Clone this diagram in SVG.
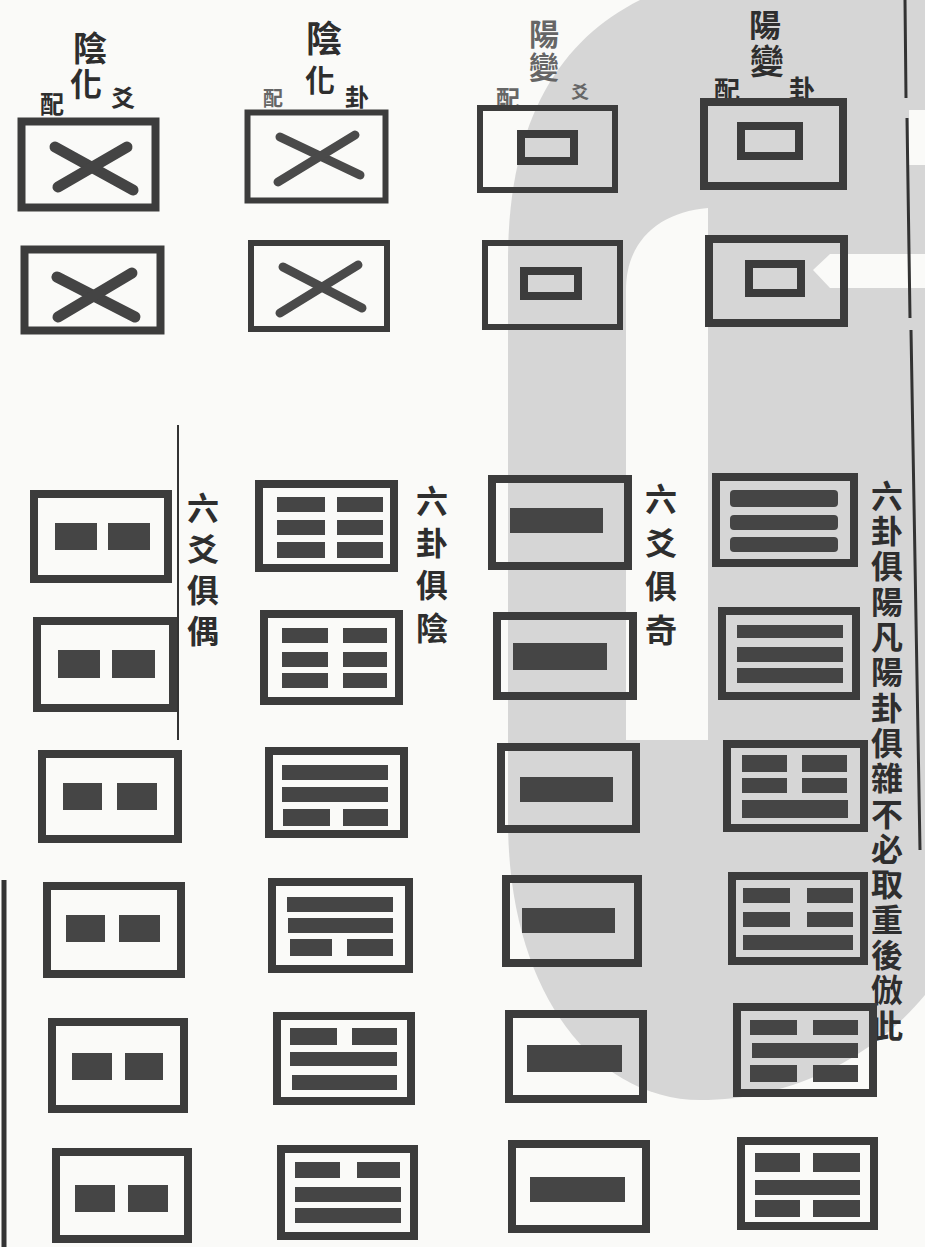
<svg xmlns="http://www.w3.org/2000/svg" width="925" height="1247" viewBox="0 0 925 1247">
<style>
.bg{fill:#fafaf8}
.wm{fill:#d6d6d6}
.hole{fill:#fafaf8}
.bx{fill:none;stroke:#3c3c3c;stroke-width:8}
.bx6{fill:none;stroke:#3c3c3c;stroke-width:6}
.bar{fill:#454545}
.x{stroke:#444;stroke-width:11;stroke-linecap:round}
.x2{stroke:#4a4a4a;stroke-width:9;stroke-linecap:round}
.t{font-family:"Noto Sans CJK TC","Noto Sans CJK SC",sans-serif;font-weight:700;fill:#2e2e2e;text-anchor:middle}
.tl{fill:#666}
.rule{stroke:#333;fill:none}
</style>
<rect class="bg" x="0" y="0" width="925" height="1247"/>
<g id="watermark">
<path class="wm" d="M640,0 L925,0 L925,995 C880,1050 800,1100 700,1100 C600,1100 508,1000 508,820 L508,260 C508,120 560,40 640,0 Z"/>
<path class="hole" d="M626,740 L626,290 C626,240 660,212 708,208 L708,740 Z"/>
<path class="hole" d="M813,270 L830,254 L925,254 L925,288 L830,288 Z"/>
<path class="hole" d="M909,110 L925,110 L925,165 L909,165 Z"/>
</g>
<g id="rules">
<path class="rule" stroke-width="3" d="M905,0 L906,98 M907,118 L910,318 M911,330 L920,850"/>
<path class="rule" stroke-width="2" d="M178,425 L178,740"/>
<path class="rule" stroke-width="5" d="M4,880 L4,1247"/>
</g>
<g id="headers">
<g id="h1"><text class="t"><tspan x="90" y="61" font-size="34">陰</tspan><tspan x="86" y="96" font-size="32">化</tspan><tspan x="52" y="113" font-size="24">配</tspan><tspan x="123" y="107" font-size="24">爻</tspan></text></g>
<g id="h2"><text class="t"><tspan x="324" y="52" font-size="36">陰</tspan><tspan x="320" y="91" font-size="30">化</tspan><tspan x="273" y="106" font-size="20" fill="#666">配</tspan><tspan x="357" y="106" font-size="24">卦</tspan></text></g>
<g id="h3"><text class="t tl"><tspan x="544" y="45" font-size="30">陽</tspan><tspan x="544" y="78" font-size="30">變</tspan><tspan x="508" y="108" font-size="24">配</tspan><tspan x="580" y="99" font-size="18">爻</tspan></text></g>
<g id="h4"><text class="t"><tspan x="765" y="37" font-size="32">陽</tspan><tspan x="767" y="74" font-size="34">變</tspan><tspan x="727" y="100" font-size="26">配</tspan><tspan x="802" y="99" font-size="26">卦</tspan></text></g>
</g>
<g id="labels">
<text class="t" font-size="32" x="203 203 203 203" y="520 561 602 643">六爻俱偶</text>
<text class="t" font-size="32" x="432 432 432 432" y="513 555 597 640">六卦俱陰</text>
<text class="t" font-size="32" x="661 661 661 661" y="511 555 598 642">六爻俱奇</text>
<text class="t" font-size="32" x="887 887 887 887 887 887 887 887 887 887 887 887 887 887 887 887 887" y="508 543 578 614 649 684 720 755 790 826 861 896 932 967 1002 1038 1073">六卦俱陽凡陽卦俱雜不必取重後倣此</text>
</g>
<g id="c1r1"><rect class="bx" x="21.5" y="121.5" width="134" height="86" stroke-width="9"/><line class="x" x1="55" y1="147" x2="133" y2="190"/><line class="x" x1="58" y1="187" x2="127" y2="147"/></g>
<g id="c1r2"><rect class="bx" x="24.5" y="249.5" width="136" height="81" stroke-width="9"/><line class="x" x1="57" y1="277" x2="135" y2="317"/><line class="x" x1="58" y1="317" x2="132" y2="273"/></g>
<g id="c2r1"><rect class="bx6" x="247.5" y="112.5" width="138" height="88" stroke-width="5"/><line class="x2" x1="280" y1="137" x2="360" y2="175"/><line class="x2" x1="278" y1="182" x2="355" y2="135"/></g>
<g id="c2r2"><rect class="bx6" x="251" y="243" width="136" height="86"/><line class="x2" x1="283" y1="267" x2="362" y2="308"/><line class="x2" x1="280" y1="313" x2="358" y2="265"/></g>
<g id="c3r1"><rect class="bx6" x="480" y="108" width="135" height="82"/><rect class="bx" x="521" y="134" width="53" height="27"/></g>
<g id="c3r2"><rect class="bx6" x="485" y="243" width="135" height="84"/><rect class="bx" x="524" y="271" width="54" height="25"/></g>
<g id="c4r1"><rect class="bx" x="704" y="102" width="139" height="84"/><rect class="bx" x="741" y="126" width="58" height="30"/></g>
<g id="c4r2"><rect class="bx" x="709" y="239" width="135" height="84"/><rect class="bx" x="749" y="264" width="52" height="29"/></g>
<g id="c1r3"><rect class="bx" x="34" y="494" width="134" height="85"/><rect class="bar" x="55" y="523" width="42" height="27"/><rect class="bar" x="108" y="523" width="42" height="27"/></g>
<g id="c1r4"><rect class="bx" x="37" y="621" width="136" height="87"/><rect class="bar" x="58" y="650" width="42" height="28"/><rect class="bar" x="112" y="650" width="43" height="28"/></g>
<g id="c1r5"><rect class="bx" x="42" y="754" width="136" height="85"/><rect class="bar" x="63" y="783" width="39" height="27"/><rect class="bar" x="117" y="783" width="40" height="27"/></g>
<g id="c1r6"><rect class="bx" x="47" y="886" width="134" height="88"/><rect class="bar" x="66" y="915" width="39" height="27"/><rect class="bar" x="119" y="915" width="41" height="27"/></g>
<g id="c1r7"><rect class="bx" x="52" y="1022" width="132" height="87"/><rect class="bar" x="72" y="1053" width="40" height="27"/><rect class="bar" x="125" y="1053" width="38" height="27"/></g>
<g id="c1r8"><rect class="bx" x="56" y="1152" width="132" height="87"/><rect class="bar" x="75" y="1185" width="40" height="27"/><rect class="bar" x="128" y="1185" width="40" height="27"/></g>
<g id="c2r3"><rect class="bx" x="259" y="484" width="135" height="84"/><rect class="bar" x="277" y="497" width="48" height="15"/><rect class="bar" x="337" y="497" width="46" height="15"/><rect class="bar" x="277" y="520" width="48" height="15"/><rect class="bar" x="337" y="520" width="46" height="15"/><rect class="bar" x="277" y="542" width="48" height="16"/><rect class="bar" x="337" y="542" width="46" height="16"/></g>
<g id="c2r4"><rect class="bx" x="264" y="614" width="135" height="87"/><rect class="bar" x="282" y="628" width="46" height="15"/><rect class="bar" x="343" y="628" width="44" height="15"/><rect class="bar" x="282" y="652" width="46" height="15"/><rect class="bar" x="343" y="652" width="44" height="15"/><rect class="bar" x="282" y="673" width="46" height="15"/><rect class="bar" x="343" y="673" width="44" height="15"/></g>
<g id="c2r5"><rect class="bx" x="269" y="751" width="135" height="83"/><rect class="bar" x="282" y="765" width="106" height="15"/><rect class="bar" x="282" y="787" width="106" height="15"/><rect class="bar" x="283" y="809" width="47" height="17"/><rect class="bar" x="343" y="809" width="45" height="17"/></g>
<g id="c2r6"><rect class="bx" x="272" y="882" width="137" height="87"/><rect class="bar" x="287" y="897" width="106" height="15"/><rect class="bar" x="288" y="918" width="105" height="15"/><rect class="bar" x="290" y="939" width="42" height="17"/><rect class="bar" x="347" y="939" width="46" height="17"/></g>
<g id="c2r7"><rect class="bx" x="277" y="1016" width="134" height="85"/><rect class="bar" x="290" y="1028" width="47" height="17"/><rect class="bar" x="352" y="1028" width="45" height="17"/><rect class="bar" x="290" y="1052" width="107" height="14"/><rect class="bar" x="292" y="1075" width="105" height="15"/></g>
<g id="c2r8"><rect class="bx" x="281" y="1149" width="133" height="87"/><rect class="bar" x="295" y="1162" width="45" height="16"/><rect class="bar" x="357" y="1162" width="43" height="16"/><rect class="bar" x="295" y="1187" width="106" height="15"/><rect class="bar" x="295" y="1208" width="106" height="15"/></g>
<g id="c3r3"><rect class="bx" x="492" y="479" width="136" height="87"/><rect class="bar" x="510" y="508" width="93" height="25"/></g>
<g id="c3r4"><rect class="bx" x="497" y="616" width="136" height="80"/><rect class="bar" x="513" y="643" width="94" height="27"/></g>
<g id="c3r5"><rect class="bx" x="501" y="747" width="135" height="82"/><rect class="bar" x="520" y="777" width="93" height="25"/></g>
<g id="c3r6"><rect class="bx" x="506" y="879" width="132" height="84"/><rect class="bar" x="522" y="908" width="93" height="25"/></g>
<g id="c3r7"><rect class="bx" x="509" y="1014" width="134" height="85"/><rect class="bar" x="527" y="1045" width="95" height="27"/></g>
<g id="c3r8"><rect class="bx" x="512" y="1144" width="134" height="85"/><rect class="bar" x="530" y="1177" width="95" height="25"/></g>
<g id="c4r3"><rect class="bx" x="716" y="477" width="138" height="86"/><rect class="bar" x="730" y="490" width="108" height="17" rx="4"/><rect class="bar" x="730" y="515" width="108" height="15" rx="4"/><rect class="bar" x="730" y="537" width="108" height="15" rx="4"/></g>
<g id="c4r4"><rect class="bx" x="722" y="611" width="134" height="85"/><rect class="bar" x="737" y="625" width="106" height="13"/><rect class="bar" x="737" y="647" width="106" height="15"/><rect class="bar" x="737" y="668" width="106" height="15"/></g>
<g id="c4r5"><rect class="bx" x="727" y="744" width="137" height="84"/><rect class="bar" x="742" y="755" width="45" height="17"/><rect class="bar" x="802" y="755" width="45" height="17"/><rect class="bar" x="742" y="778" width="45" height="15"/><rect class="bar" x="802" y="778" width="45" height="15"/><rect class="bar" x="742" y="800" width="106" height="18"/></g>
<g id="c4r6"><rect class="bx" x="732" y="876" width="132" height="85"/><rect class="bar" x="743" y="888" width="47" height="15"/><rect class="bar" x="807" y="888" width="46" height="15"/><rect class="bar" x="743" y="912" width="47" height="15"/><rect class="bar" x="807" y="912" width="46" height="15"/><rect class="bar" x="743" y="935" width="110" height="15"/></g>
<g id="c4r7"><rect class="bx" x="737" y="1007" width="136" height="86"/><rect class="bar" x="750" y="1020" width="47" height="15"/><rect class="bar" x="813" y="1020" width="45" height="15"/><rect class="bar" x="752" y="1043" width="106" height="15"/><rect class="bar" x="750" y="1065" width="47" height="17"/><rect class="bar" x="813" y="1065" width="45" height="17"/></g>
<g id="c4r8"><rect class="bx" x="741" y="1141" width="133" height="85"/><rect class="bar" x="755" y="1153" width="45" height="19"/><rect class="bar" x="813" y="1153" width="47" height="19"/><rect class="bar" x="755" y="1180" width="105" height="15"/><rect class="bar" x="755" y="1200" width="45" height="17"/><rect class="bar" x="813" y="1200" width="47" height="17"/></g>
</svg>
